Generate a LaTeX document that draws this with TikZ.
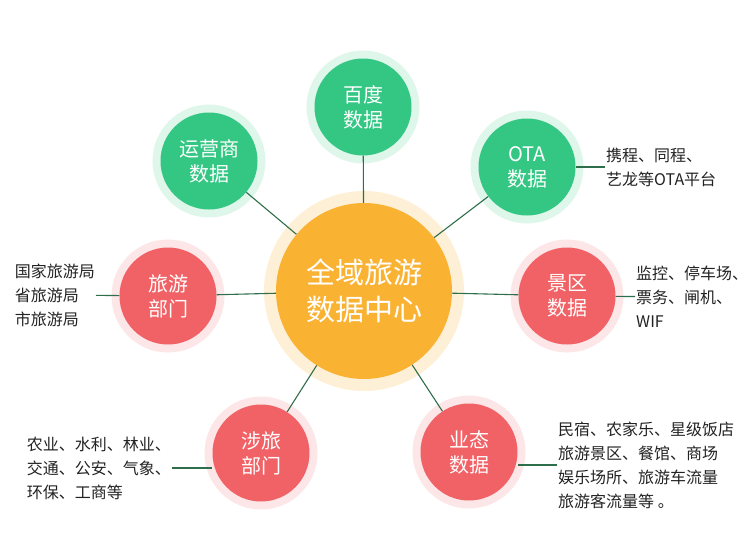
\documentclass[tikz,border=0pt]{standalone}
\usepackage{fontspec}
\setmainfont{Noto Sans CJK SC}
\definecolor{hubColor}{RGB}{250,178,50}
\definecolor{greenColor}{RGB}{52,199,132}
\definecolor{redColor}{RGB}{241,98,102}
\definecolor{lineColor}{RGB}{46,110,74}
\definecolor{noteColor}{RGB}{34,34,34}

\begin{document}
\begin{tikzpicture}[x=1pt,y=-1pt,
 hub/.style={circle,fill=hubColor,text=white,inner sep=0,minimum size=176,align=center,
  preaction={draw=hubColor!20,line width=24pt},font=\fontsize{29}{37}\selectfont},
 sat/.style={circle,fill=#1,text=white,inner sep=0,minimum size=97,align=center,
  preaction={draw=#1!16,line width=16pt},font=\fontsize{20}{25}\selectfont},
 note/.style={align=left,inner sep=1pt,text=noteColor,font=\fontsize{16}{24}\selectfont},
 link/.style={draw=lineColor,line width=1.1pt}]
\useasboundingbox (0,0) rectangle (750,546);
\node[hub] (hub) at (364,291) {全域旅游\\数据中心};
\node[sat=greenColor] (baidu) at (363,107) {百度\\数据};
\node[sat=greenColor] (yys) at (209,161) {运营商\\数据};
\node[sat=greenColor] (ota) at (527,167) {OTA\\数据};
\node[sat=redColor] (lvyou) at (168,296) {旅游\\部门};
\node[sat=redColor] (jingqu) at (567,296) {景区\\数据};
\node[sat=redColor] (shelv) at (261,453) {涉旅\\部门};
\node[sat=redColor] (yetai) at (469,452) {业态\\数据};
\node[note,anchor=west] (otaNote) at (605,167) {携程、同程、\\艺龙等OTA平台};
\node[note,anchor=west] (jingquNote) at (635,297) {监控、停车场、\\票务、闸机、\\WIF};
\node[note,anchor=east] (lvyouNote) at (96,295) {国家旅游局\\省旅游局\\市旅游局};
\node[note,anchor=east] (shelvNote) at (172,468) {农业、水利、林业、\\交通、公安、气象、\\环保、工商等};
\node[note,anchor=west] (yetaiNote) at (557,465) {民宿、农家乐、星级饭店\\旅游景区、餐馆、商场\\娱乐场所、旅游车流量\\旅游客流量等 。};
\foreach \s in {baidu,yys,ota,lvyou,jingqu,shelv,yetai}
 \draw[link] (hub) -- (\s);
\draw[link] (ota) -- (otaNote);
\draw[link] (jingqu) -- (jingquNote);
\draw[link] (lvyouNote) -- (lvyou);
\draw[link] (shelvNote.east) -- (shelvNote.east -| shelv.west);
\draw[link] (yetaiNote.west) -- (yetaiNote.west -| yetai.east);
\end{tikzpicture}
\end{document}
